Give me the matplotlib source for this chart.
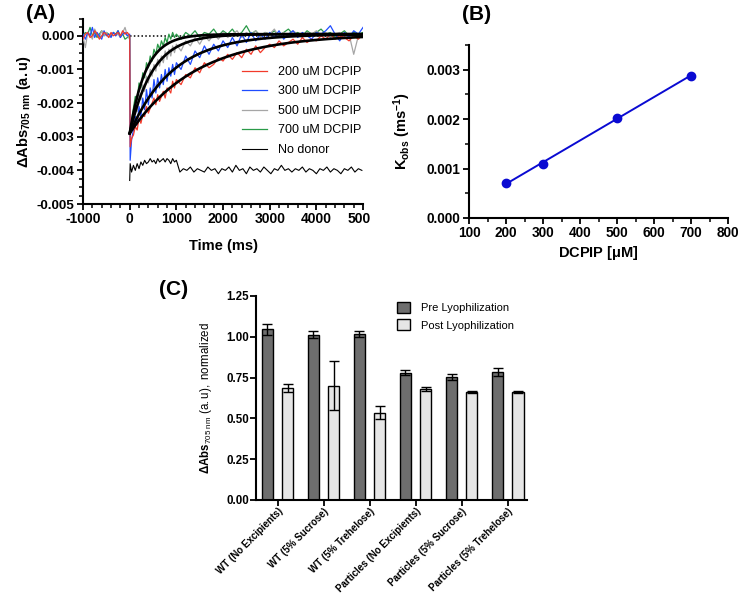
import numpy as np
import matplotlib
matplotlib.use("Agg")
import matplotlib.pyplot as plt
from matplotlib.ticker import MultipleLocator, FormatStrFormatter
from matplotlib.patches import Patch
from matplotlib.transforms import Bbox

plt.rcParams['font.family'] = 'Liberation Sans'
plt.rcParams['axes.unicode_minus'] = False
plt.rcParams['mathtext.fontset'] = 'custom'
plt.rcParams['mathtext.rm'] = 'Liberation Sans'
plt.rcParams['mathtext.bf'] = 'Liberation Sans:bold'
plt.rcParams['mathtext.it'] = 'Liberation Sans:italic'

# ---- panel A: transient traces (values in units of 1e-4 a.u.) ----
t_pre = np.arange(-1000, 1, 50)
t_fast = np.concatenate([[10], np.arange(40, 1001, 40)])
t_slow = np.arange(1100, 5001, 100)
t_trace = np.concatenate([t_pre, t_fast, t_slow])

red = [
    -1, 0.5, 1, -0.5, 0, 1.5, 0.5, -1, 0, 1, 0.5, -0.5, 1, 0, 0.5, 1, 0, 1.5, 0.5, 1, 0,
    -33, -30.5, -29.5, -27, -28, -24.5, -26, -23.5, -24, -21, -23, -21.5, -20, -18.5, -20.5,
    -17.5, -19.5, -18, -16.5, -18.5, -15.5, -16, -17, -13.5, -15.5, -13,
    -14.5, -11.5, -12.5, -9.5, -11, -8, -9.5, -8.5, -6.5, -7.5, -5.5, -7, -5, -6.5, -4, -5.5,
    -3, -5, -3.5, -2.5, -3.5, -1.5, -3, -2, -1, -2.5, -0.5, -2, -1, -1.5, 0, -1, 0.5, -1, 0,
    -0.5, -1.5, 0, -1, 0.5,
]
blue = [
    0.5, -1, 1, 0, 2.5, -0.5, 1, 0, -1, 1.5, 0, 0.5, -0.5, 1, 0, 1.5, -0.5, 0.5, 1, 0, 0.5,
    -37, -31, -28, -24, -26.5, -21, -24, -18.5, -22, -16, -20.5, -15.5, -18.5, -13, -17,
    -12.5, -15.5, -11.5, -14.5, -10, -13.5, -9.5, -12, -8.5, -11.5, -8,
    -10, -6, -8.5, -4.5, -6.5, -3, -5.5, -2.5, -4.5, -1.5, -3.5, -0.5, -3, 0.5, -2, 1, -1.5,
    0.5, -1, 1, -0.5, 1.5, -1, 0.5, 1.5, -0.5, 1, 0, -1, 1, 0.5, 1.5, 3, 0.5, -1.5, 1, -0.5,
    1.5, 0.5, 2.5,
]
gray = [
    -0.5, -3.5, 1, 0.5, -1, 2, 0.5, -0.5, 1.5, 0, 1, -0.5, 0.5, 1, 0, 0.5, -0.5, 1, 2.5, 0, -1,
    -30, -27, -24, -21, -22.5, -17.5, -19, -14.5, -16.5, -12, -14, -10, -12, -8.5, -10.5,
    -7, -9, -6, -8, -4.5, -7, -4, -6, -3, -5, -2.5,
    -4.5, -1.5, -3, -0.5, -2.5, 0, -1.5, 0.5, -1, 1, -0.5, 0.5, 1.5, -0.5, 1, 0, 1.5, -0.5,
    1, 0.5, 2, -0.5, 1, 0, 1.5, 0.5, -0.5, 1, 0.5, 1.5, 0, 1, -0.5, 0.5, 1, -0.5, 0.5, -5.5,
    0, 0.5,
]
green = [
    0, 1, 0.5, 2.5, 0, 1, -0.5, 0.5, 1.5, 0, 1, 0.5, 0, 1, 0.5, 1.5, 0, 0.5, -1, -0.5, 0,
    -29, -25, -21.5, -18, -19, -14, -15.5, -11, -12.5, -8, -9.5, -6, -7.5, -4, -5.5, -2.5,
    -4, -1.5, -3, -0.5, -2, 0.5, -1, 1, -0.5, 0.5,
    -1, 1, 0, 1.5, -0.5, 1, 0.5, 2, 0, 1.5, 0.5, 2, 0, 1, 3, 0.5, 1.5, 0, 1, 0.5, 1.5, 0, 1,
    2, 0.5, 1, 0, 1.5, 0.5, 1, 2, 0.5, 1, -0.5, 0.5, 1.5, 0, 1, 0.5, 1,
]
no_donor_fast = [
    -43, -38, -40.5, -38.5, -40, -38, -39.5, -37.5, -38.5, -37, -38, -37.5, -36.5, -37.5,
    -37, -38, -36.5, -37.5, -37, -36.5, -37.5, -36.5, -37, -38, -36.5, -37.5, -37,
]
no_donor_slow = [
    -40.5, -39.5, -40, -39, -40.5, -39.5, -40, -40.5, -39, -40,
    -39.5, -41, -39.5, -40, -39, -40.5, -38.5, -40, -39.5, -41,
    -39, -40, -39.5, -40.5, -39, -40, -41, -39.5, -40, -38.5,
    -40, -39.5, -40.5, -39.5, -40, -39, -40.5, -39.5, -40, -41,
    -39.5, -40, -39, -40.5, -39.5, -40, -41, -39.5, -40, -39,
    -40.5, -39.5, -40,
]
t_nd = np.concatenate([[0, 10], np.arange(40, 1001, 40),
                       np.linspace(1075, 4975, len(no_donor_slow))])
no_donor = no_donor_fast + no_donor_slow

trace_labels = ['200 uM DCPIP', '300 uM DCPIP', '500 uM DCPIP', '700 uM DCPIP']
trace_colors = ['#f23a2a', '#1f4cff', '#a6a6a6', '#2a9a48']

# ---- panel B: observed rate constants ----
dcpip = [200, 300, 500, 700]
kobs = [0.00071, 0.00109, 0.00203, 0.00288]
fit_amp = -0.00295
fit_offset = 0.00005

# ---- panel C: lyophilization ----
conditions = ['WT (No Excipients)', 'WT (5% Sucrose)', 'WT (5% Trehelose)',
              'Particles (No Excipients)', 'Particles (5% Sucrose)', 'Particles (5% Trehelose)']
pre = [1.045, 1.012, 1.018, 0.780, 0.755, 0.783]
pre_err = [0.035, 0.022, 0.018, 0.016, 0.018, 0.025]
post = [0.688, 0.700, 0.535, 0.678, 0.662, 0.662]
post_err = [0.025, 0.150, 0.040, 0.013, 0.008, 0.006]

fig = plt.figure(figsize=(7.4, 5.99), dpi=100)
axA = fig.add_axes([0.1122, 0.6594, 0.3784, 0.3089])
axB = fig.add_axes([0.6338, 0.6361, 0.35, 0.2888])
axC = fig.add_axes([0.3459, 0.1653, 0.3662, 0.3406])

for ax in (axA, axB, axC):
    ax.spines['top'].set_visible(False)
    ax.spines['right'].set_visible(False)
    ax.spines['left'].set_linewidth(1.5)
    ax.spines['bottom'].set_linewidth(1.5)

# panel A
scale = 1e-4
handles = []
for vals, lab, col, z in zip([red, blue, gray, green], trace_labels, trace_colors, [5, 4, 3, 2]):
    ln, = axA.plot(t_trace, np.array(vals) * scale, color=col, lw=0.9, zorder=z, label=lab)
    handles.append(ln)
ln, = axA.plot(t_nd, np.array(no_donor) * scale, color='black', lw=0.8, zorder=4, label='No donor')
handles.append(ln)

t_fit = np.linspace(0, 5000, 400)
for k in kobs:
    axA.plot(t_fit, fit_amp * np.exp(-k * t_fit) + fit_offset, color='black', lw=1.9, zorder=6)
axA.plot([0, 5000], [0, 0], color='black', lw=1.1, ls=(0, (1, 1.5)), zorder=1)

axA.set_xlim(-1000, 5000)
axA.set_ylim(-0.005, 0.0005)
axA.xaxis.set_major_locator(MultipleLocator(1000))
axA.xaxis.set_minor_locator(MultipleLocator(200))
axA.yaxis.set_major_locator(MultipleLocator(0.001))
axA.yaxis.set_minor_locator(MultipleLocator(0.00025))
axA.yaxis.set_major_formatter(FormatStrFormatter('%.3f'))
axA.tick_params(which='major', length=4.5, width=1.3, direction='out')
axA.tick_params(which='minor', length=3, width=1.1, direction='out')
axA.tick_params(axis='x', labelsize=10, pad=1.5)
axA.tick_params(axis='y', labelsize=9.7, pad=1.5)
for lbl in axA.get_xticklabels() + axA.get_yticklabels():
    lbl.set_fontweight('bold')
axA.set_xlabel('Time (ms)', fontsize=10.5, fontweight='bold')
axA.xaxis.set_label_coords(0.5, -0.19)
axA.set_ylabel(r'$\mathbf{\Delta Abs}_{\mathbf{705\ nm}}\mathbf{\ (a.u)}$', fontsize=10.5)
axA.yaxis.set_label_coords(-0.18, 0.5)
axA.legend(handles=handles, loc='upper left', bbox_to_anchor=(0.545, 0.78), frameon=False,
           fontsize=9, handlelength=2.0, handletextpad=0.9, labelspacing=0.6, borderpad=0)

# panel B
slope, icpt = np.polyfit(dcpip, kobs, 1)
xfit = np.array([dcpip[0], dcpip[-1]])
axB.plot(xfit, slope * xfit + icpt, color='#0a0ad2', lw=1.4)
axB.plot(dcpip, kobs, 'o', color='#0a0ad2', ms=6)
axB.set_xlim(100, 800)
axB.set_ylim(0, 0.0035)
axB.xaxis.set_major_locator(MultipleLocator(100))
axB.xaxis.set_minor_locator(MultipleLocator(50))
axB.yaxis.set_major_locator(MultipleLocator(0.001))
axB.yaxis.set_minor_locator(MultipleLocator(0.0005))
axB.yaxis.set_major_formatter(FormatStrFormatter('%.3f'))
axB.tick_params(which='major', length=4.5, width=1.3, direction='out', labelsize=9.8, pad=1.5)
axB.tick_params(which='minor', length=3, width=1.1, direction='out')
for lbl in axB.get_xticklabels() + axB.get_yticklabels():
    lbl.set_fontweight('bold')
axB.set_xlabel(r'$\mathbf{DCPIP\ [\mu M]}$', fontsize=10.5)
axB.xaxis.set_label_coords(0.5, -0.15)
axB.set_ylabel(r'$\mathbf{K}_{\mathbf{obs}}\mathbf{\ (ms^{-1})}$', fontsize=10.5)
axB.yaxis.set_label_coords(-0.215, 0.5)

# panel C
x = np.arange(len(conditions))
w = 0.25
axC.bar(x - 0.22, pre, w, color='#6e6e6e', edgecolor='black', linewidth=1, zorder=2)
axC.bar(x + 0.22, post, w, color='#e6e6e6', edgecolor='black', linewidth=1, zorder=2)
axC.errorbar(x - 0.22, pre, yerr=pre_err, fmt='none', ecolor='black', elinewidth=1,
             capsize=3.5, capthick=1, zorder=3)
axC.errorbar(x + 0.22, post, yerr=post_err, fmt='none', ecolor='black', elinewidth=1,
             capsize=3.5, capthick=1, zorder=3)
axC.set_xlim(-0.47, 5.42)
axC.set_ylim(0, 1.25)
axC.yaxis.set_major_locator(MultipleLocator(0.25))
axC.yaxis.set_major_formatter(FormatStrFormatter('%.2f'))
axC.set_xticks(x)
axC.set_xticklabels(conditions, rotation=45, ha='right', rotation_mode='anchor',
                    fontsize=7.0, fontweight='bold')
axC.tick_params(which='major', length=4, width=1.3, direction='out', labelsize=8.3, pad=1)
axC.tick_params(axis='x', labelsize=7.0, pad=0.5)
for lbl in axC.get_yticklabels():
    lbl.set_fontweight('bold')
axC.set_ylabel(r'$\mathbf{\Delta Abs}_{\mathrm{705\ nm}}\mathrm{\ (a.u),\ normalized}$', fontsize=8.3)
axC.yaxis.set_label_coords(-0.155, 0.5)
axC.legend(handles=[Patch(facecolor='#6e6e6e', edgecolor='black', label='Pre Lyophilization'),
                    Patch(facecolor='#e6e6e6', edgecolor='black', label='Post Lyophilization')],
           loc='upper left', bbox_to_anchor=(0.5, 1.0), frameon=False, fontsize=8,
           handlelength=1.2, handleheight=1.2, handletextpad=1.0, labelspacing=0.55, borderpad=0)

fig.text(0.0554, 0.977, '(A)', fontsize=15, fontweight='bold', ha='center', va='center')
fig.text(0.6446, 0.975, '(B)', fontsize=15, fontweight='bold', ha='center', va='center')
fig.text(0.2351, 0.5175, '(C)', fontsize=15, fontweight='bold', ha='center', va='center')

# panel A was cropped in the original, cutting off the last tick label
fig.canvas.draw()
for lbl in axA.get_xticklabels():
    lbl.set_clip_on(True)
    lbl.set_clip_box(Bbox.from_extents(0, 0, 370, 599))

fig.savefig('out.png', dpi=100)
